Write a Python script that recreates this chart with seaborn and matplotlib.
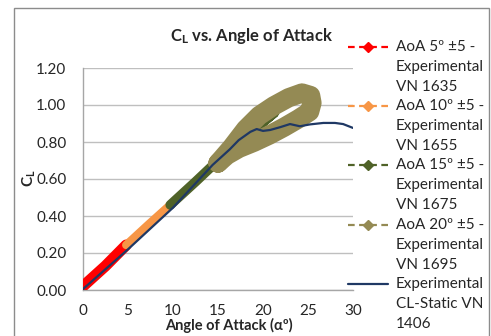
import numpy as np
import pandas as pd
import seaborn as sns
import matplotlib
matplotlib.use("Agg")
import matplotlib.pyplot as plt
from matplotlib.lines import Line2D
from matplotlib.patches import Rectangle

# ---- data: lift coefficient vs angle of attack ----
aoa_5 = [0.0, 2.5, 4.8]
cl_5 = [0.02, 0.13, 0.243]

aoa_10 = [4.8, 7.3, 9.7]
cl_10 = [0.243, 0.355, 0.46]

aoa_15 = [9.7, 12.5, 15.0, 17.0, 19.0, 21.3, 19.0, 17.0, 15.0]
cl_15 = [0.46, 0.585, 0.70, 0.79, 0.87, 0.96, 0.865, 0.78, 0.69]

aoa_20 = [15.0, 16.51, 18.07, 19.58, 21.18, 22.84, 24.33, 25.29, 25.44, 25.18,
          23.90, 22.34, 20.68, 19.01, 17.34, 16.01, 15.0]
cl_20 = [0.686, 0.771, 0.870, 0.943, 0.995, 1.039, 1.065, 1.051, 1.011, 0.964,
         0.924, 0.880, 0.837, 0.799, 0.766, 0.729, 0.686]

aoa_static = [0.0, 5.0, 10.0, 14.4, 16.3, 17.3, 18.6, 19.3, 20.0, 20.8, 21.9,
              23.0, 24.1, 25.2, 26.7, 28.0, 28.9, 30.0]
cl_static = [0.005, 0.22, 0.445, 0.676, 0.76, 0.81, 0.855, 0.87, 0.86, 0.865,
             0.88, 0.897, 0.885, 0.895, 0.903, 0.903, 0.897, 0.876]

labels = [
    ["AoA 5º ±5 -", "Experimental", "VN 1635"],
    ["AoA 10º ±5 -", "Experimental", "VN 1655"],
    ["AoA 15º ±5 -", "Experimental", "VN 1675"],
    ["AoA 20º ±5 -", "Experimental", "VN 1695"],
    ["Experimental", "CL-Static VN", "1406"],
]
colors = ["#FF0000", "#F79646", "#4F6228", "#948A54", "#1F3864"]
xticks = [0, 5, 10, 15, 20, 25, 30]
yticks = [0.0, 0.2, 0.4, 0.6, 0.8, 1.0, 1.2]

sns.set_theme(style="white")
plt.rcParams["font.family"] = ["Lato", "DejaVu Sans"]
plt.rcParams["mathtext.fontset"] = "custom"
plt.rcParams["mathtext.rm"] = "Lato"
plt.rcParams["mathtext.bf"] = "Lato:bold"
plt.rcParams["mathtext.it"] = "Lato:italic"

W, H = 491, 336
fig = plt.figure(figsize=(W / 100, H / 100), dpi=100)
fx = lambda px: px / W
fy = lambda py: 1 - py / H

ax = fig.add_axes([fx(83), fy(290), fx(353) - fx(83), fy(68) - fy(290)])

text_col = "#262626"
# (x, y, colour, trail width in points)
series = [
    (aoa_5, cl_5, colors[0], 8.0),
    (aoa_10, cl_10, colors[1], 6.0),
    (aoa_15, cl_15, colors[2], 7.0),
    (aoa_20, cl_20, colors[3], 13.9),
    (aoa_static, cl_static, colors[4], 1.6),
]
for k, (xs, ys, c, lw) in enumerate(series):
    df = pd.DataFrame({"aoa": xs, "cl": ys})
    sns.lineplot(data=df, x="aoa", y="cl", sort=False, estimator=None,
                 color=c, ax=ax)
    ln = ax.lines[-1]
    ln.set_linewidth(lw)
    ln.set_solid_capstyle("round")
    ln.set_solid_joinstyle("round")
    ln.set_zorder(3 + k)

ax.set_xlim(0, 30)
ax.set_ylim(0, 1.2)
ax.set_xticks(xticks)
ax.set_xticklabels([str(t) for t in xticks])
ax.set_yticks(yticks)
ax.set_yticklabels([f"{t:.2f}" for t in yticks])
ax.tick_params(axis="both", length=0, labelsize=11, colors=text_col)
ax.tick_params(axis="x", pad=10)
ax.tick_params(axis="y", pad=12)
ax.yaxis.grid(True, color="#BFBFBF", lw=1)
ax.xaxis.grid(False)
ax.set_axisbelow(True)
for s in ["top", "right"]:
    ax.spines[s].set_visible(False)
for s in ["left", "bottom"]:
    ax.spines[s].set_color("#A6A6A6")
    ax.spines[s].set_linewidth(1)
ax.set_xlabel("")
ax.set_ylabel("")

# titles and axis labels
fig.text(fx(252), fy(36), r"$\mathbf{C_L}$ vs. Angle of Attack", ha="center",
         va="center", fontsize=12, fontweight="bold", color=text_col)
fig.text(fx(229), fy(325), "Angle of Attack (αº)", ha="center", va="center",
         fontsize=10.5, fontweight="bold", color=text_col)
fig.text(fx(29), fy(178), r"$\mathbf{C_L}$", ha="center", va="center",
         fontsize=11, rotation=90, color=text_col)

# legend drawn at the right side
entry_y = [47, 106, 165, 225, 284]
for i, (lab, c) in enumerate(zip(labels, colors)):
    y0 = entry_y[i]
    if i < 4:
        fig.add_artist(Line2D([fx(348), fx(388)], [fy(y0), fy(y0)], color=c,
                              lw=1.6, ls=(0, (3, 2)), transform=fig.transFigure))
        fig.add_artist(Line2D([fx(368)], [fy(y0)], color=c, marker="D",
                              markersize=5, ls="none",
                              transform=fig.transFigure))
    else:
        fig.add_artist(Line2D([fx(348), fx(388)], [fy(y0), fy(y0)], color=c,
                              lw=1.6, transform=fig.transFigure))
    for j, line in enumerate(lab):
        fig.text(fx(396), fy(y0 + 19.8 * j), line, ha="left", va="center",
                 fontsize=11, color=text_col)

# chart area border
fig.add_artist(Rectangle((fx(14), fy(345)), fx(489) - fx(14), fy(8) - fy(345),
                         fill=False, edgecolor="#8C8C8C", lw=1,
                         transform=fig.transFigure))

fig.savefig("out.png", dpi=100)
